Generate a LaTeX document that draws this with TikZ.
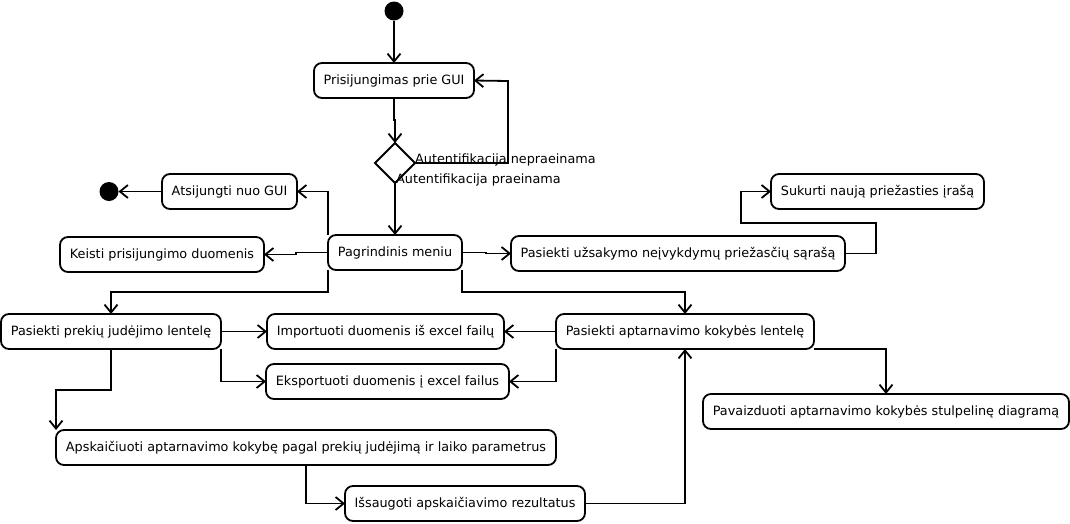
\documentclass[tikz,border=0pt]{standalone}
\usepackage{fontspec}
\setmainfont{DejaVu Sans}
\usetikzlibrary{arrows.meta,shapes.geometric}
\begin{document}
\begin{tikzpicture}[x=1pt,y=-1pt,
  act/.style={draw, rounded corners=8pt, line width=1.8pt, minimum height=35pt, inner sep=0pt, outer sep=0pt, font=\fontsize{12.8}{14}\selectfont},
  flow/.style={-{Straight Barb[length=8pt,width=13pt]}, line width=1.8pt},
  lbl/.style={inner sep=0pt, anchor=base west, font=\fontsize{12.8}{14}\selectfont},
  dot/.style={circle, fill=black, minimum size=19pt, inner sep=0pt, outer sep=0pt}]
\useasboundingbox (0,0) rectangle (1070,523);
\node[dot] (start) at (394,11) {};
\node[act, minimum width=160pt] (login) at (394,80.5) {Prisijungimas prie GUI};
\node[diamond, draw, line width=1.8pt, minimum width=40pt, minimum height=40pt, inner sep=0pt, outer sep=0pt] (dec) at (395,163) {};
\node[lbl] (l1) at (415,163) {Autentifikacija nepraeinama};
\node[lbl] (l2) at (396,183) {Autentifikacija praeinama};
\node[act, minimum width=134pt] (menu) at (395,252.5) {Pagrindinis meniu};
\node[act, minimum width=135pt] (logout) at (229.5,191.5) {Atsijungti nuo GUI};
\node[dot] (end) at (109,191.5) {};
\node[act, minimum width=204pt] (keisti) at (162,254.5) {Keisti prisijungimo duomenis};
\node[act, minimum width=334pt] (uzs) at (678,253.5) {Pasiekti užsakymo neįvykdymų priežasčių sąrašą};
\node[act, minimum width=213pt] (sukurti) at (877.5,191.5) {Sukurti naują priežasties įrašą};
\node[act, minimum width=220pt] (prekiu) at (111,331.5) {Pasiekti prekių judėjimo lentelę};
\node[act, minimum width=258pt] (apt) at (685,331.5) {Pasiekti aptarnavimo kokybės lentelę};
\node[act, minimum width=237pt] (import) at (385.5,331.5) {Importuoti duomenis iš excel failų};
\node[act, minimum width=243pt] (export) at (387.5,381.5) {Eksportuoti duomenis į excel failus};
\node[act, minimum width=366pt] (pav) at (886,411.5) {Pavaizduoti aptarnavimo kokybės stulpelinę diagramą};
\node[act, minimum width=500pt] (apsk) at (306,447.5) {Apskaičiuoti aptarnavimo kokybę pagal prekių judėjimą ir laiko parametrus};
\node[act, minimum width=240pt] (issaug) at (465,503.5) {Išsaugoti apskaičiavimo rezultatus};
\coordinate (c1) at (508,81);
\coordinate (c2) at (876,223);
\coordinate (c3) at (741,223);
\coordinate (c4) at (328,292);
\coordinate (c5) at (462,292);
\coordinate (c6) at (111,390);
\draw[flow] (start) -- (login);
\draw[flow] (login.south) -- ++(0,22) -| (dec.north);
\draw[flow] (dec.east) -| (c1) -- (login.east);
\draw[flow] (dec.south) -- (menu.north);
\draw[flow] (menu.north west) |- (logout.east);
\draw[flow] (logout.west) -- (end);
\draw[flow] (menu.west) -- ++(-32,0) |- (keisti.east);
\draw[flow] (menu.east) -- ++(24,0) |- (uzs.west);
\draw[flow] (uzs.east) -| (c2) -- (c3) |- (sukurti.west);
\draw[flow] (menu.south west) -- (c4) -| (prekiu.north);
\draw[flow] (menu.south east) -- (c5) -| (apt.north);
\draw[flow] (prekiu.east) -- (import.west);
\draw[flow] (prekiu.south east) |- (export.west);
\draw[flow] (apt.west) -- (import.east);
\draw[flow] (apt.south west) |- (export.east);
\draw[flow] (apt.south east) -| (pav.north);
\draw[flow] (prekiu.south) -- (c6) -| (apsk.north west);
\draw[flow] (apsk.south) |- (issaug.west);
\draw[flow] (issaug.east) -| (apt.south);
\end{tikzpicture}
\end{document}
